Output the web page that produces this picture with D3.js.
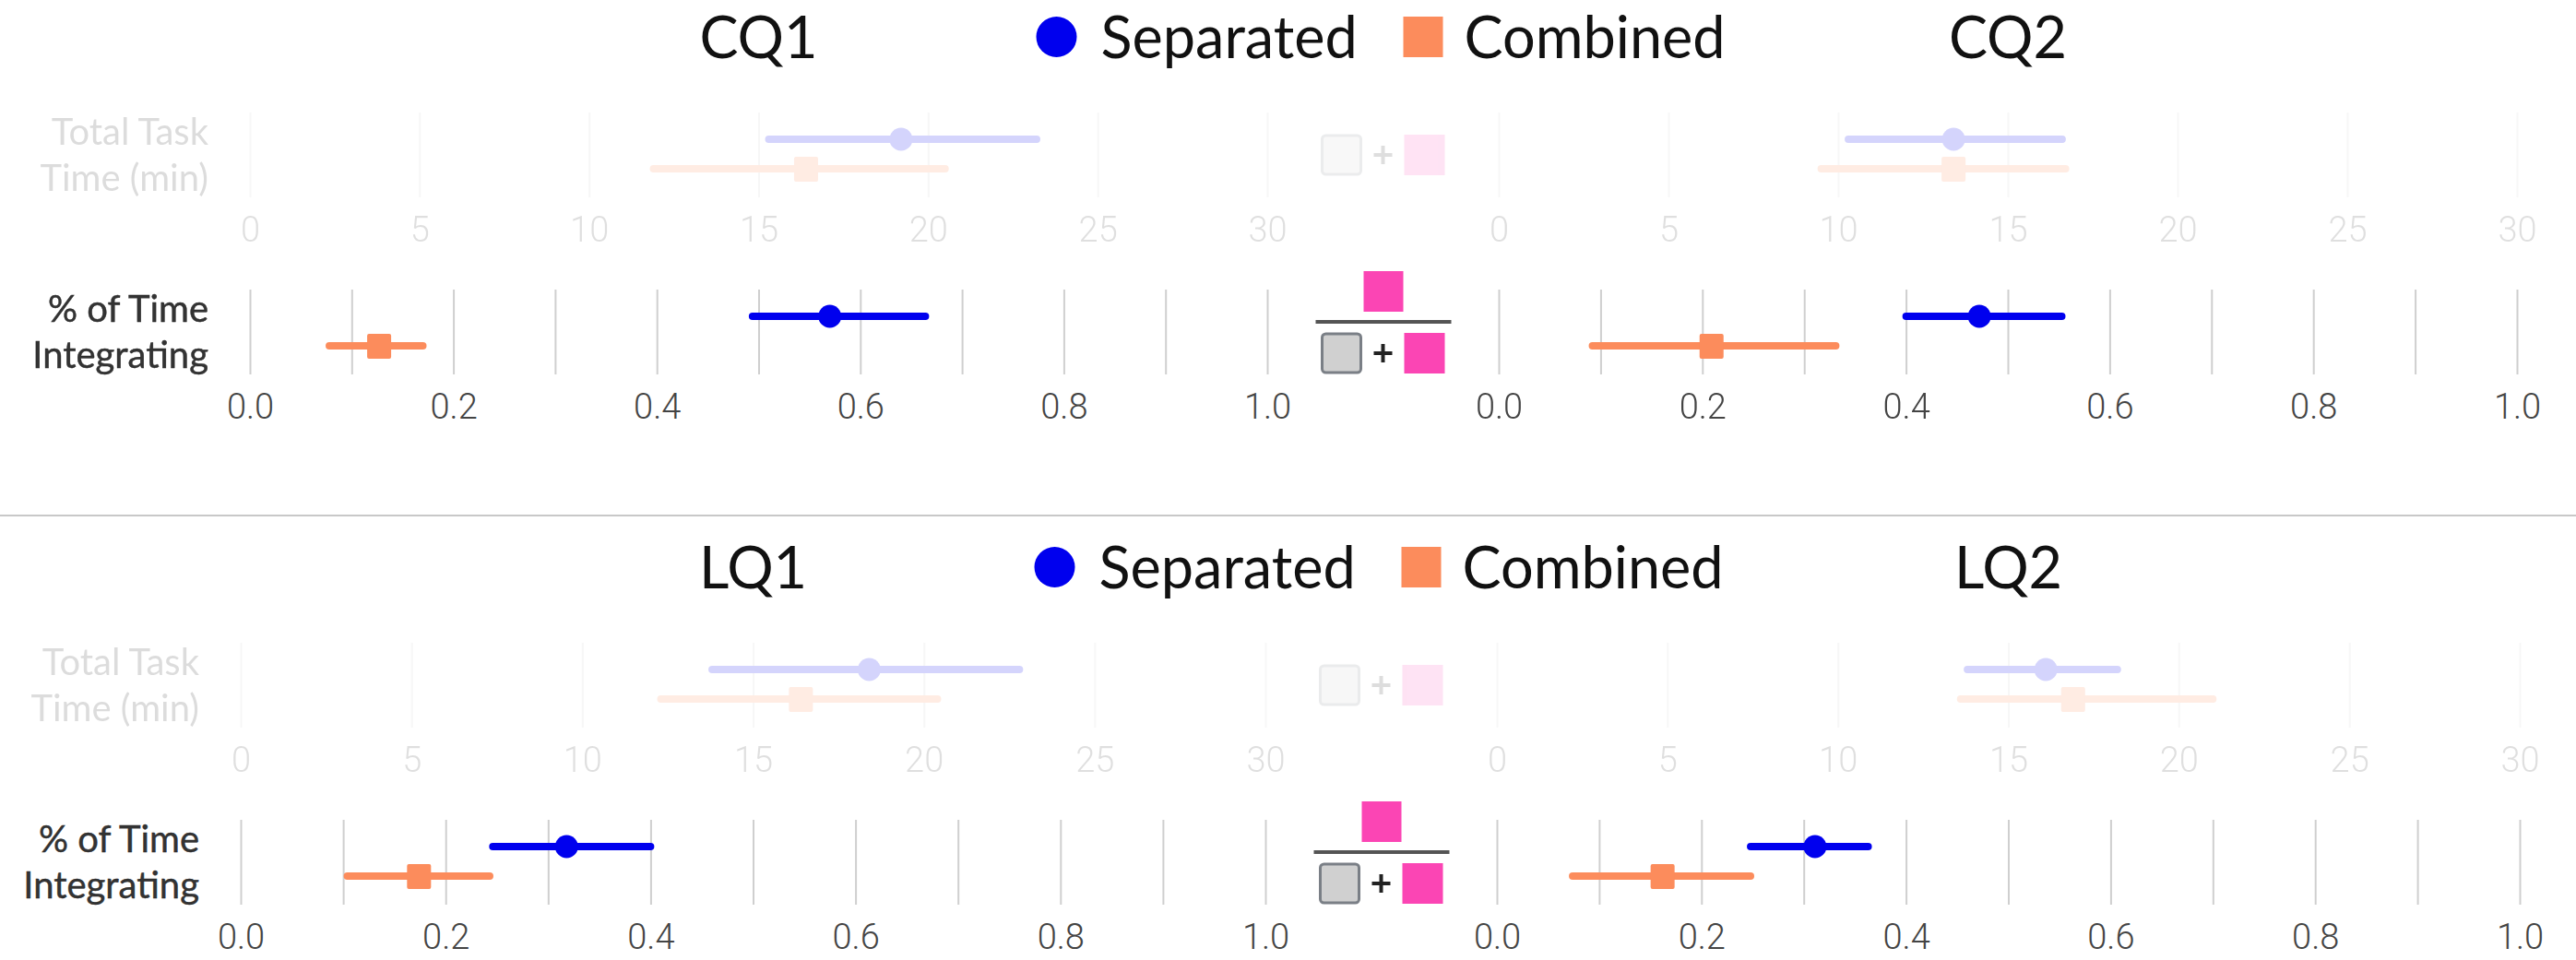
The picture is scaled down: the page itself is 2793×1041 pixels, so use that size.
<!DOCTYPE html>
<html lang="en">
<head>
    <meta charset="UTF-8">
    <title>Separated vs Combined</title>
    <script src="https://d3js.org/d3.v7.min.js"></script>
    <style>
        body { margin: 0; background: #fff; }
        .title, .legend { font-family: Lato, sans-serif; font-size: 63px; fill: #111; }
        .rowlabel { font-family: Lato, sans-serif; font-size: 40px; fill: #333; }
        .tick text { font-family: Roboto, sans-serif; font-size: 38px; font-weight: 300; fill: #444; }
        .tick line { stroke: #cfcfcf; stroke-width: 2; }
    </style>
</head>
<body>
    <script>
        // data: [low, mean, high] for each panel
        const panelNames = ["CQ1", "CQ2", "LQ1", "LQ2"];
        const seriesNames = ["Separated", "Combined"];
        const timeTicks = [0, 5, 10, 15, 20, 25, 30];
        const pctTicks = [0, 0.1, 0.2, 0.3, 0.4, 0.5, 0.6, 0.7, 0.8, 0.9, 1.0];
        const timeSeparated = [[15.3, 19.2, 23.2], [10.3, 13.4, 16.6], [13.8, 18.4, 22.8], [13.8, 16.1, 18.2]];
        const timeCombined  = [[11.9, 16.4, 20.5], [9.5, 13.4, 16.7], [12.3, 16.4, 20.4], [13.6, 16.9, 21.0]];
        const pctSeparated  = [[0.494, 0.570, 0.664], [0.400, 0.472, 0.553], [0.246, 0.318, 0.400], [0.248, 0.311, 0.363]];
        const pctCombined   = [[0.078, 0.127, 0.170], [0.092, 0.209, 0.331], [0.104, 0.174, 0.243], [0.074, 0.162, 0.248]];

        const W = 2793, H = 1041;
        const colors = { Separated: "#0000ee", Combined: "#fc8c5c" };
        const pink = "#fb45b4";
        const halfTop = [0, 575];
        const panelX = [[271, 1374], [1625, 2729], [261, 1372], [1623, 2732]];
        const rowTop = { time: 122, pct: 314 };
        const rowH = 92;
        const fadeOpacity = 0.17;

        const svg = d3.select("body").append("svg")
            .attr("width", W)
            .attr("height", H);

        // separator between the two halves
        svg.append("line")
            .attr("x1", 0).attr("x2", W)
            .attr("y1", 559).attr("y2", 559)
            .attr("stroke", "#c8c8c8").attr("stroke-width", 2);

        const yS = d3.scalePoint().domain(seriesNames).range([29, 61]);

        function drawRow(g, x, top, tickVals, fmt, sepData, combData) {
            const axis = d3.axisBottom(x)
                .tickValues(tickVals)
                .tickSize(-rowH)
                .tickPadding(21)
                .tickFormat(fmt);
            g.append("g")
                .attr("transform", `translate(0,${top + rowH})`)
                .call(axis)
                .call(a => a.select(".domain").remove());

            const rows = [["Separated", sepData], ["Combined", combData]];
            rows.forEach(([s, v]) => {
                const y = top + yS(s);
                g.append("line")
                    .attr("x1", x(v[0])).attr("x2", x(v[2]))
                    .attr("y1", y).attr("y2", y)
                    .attr("stroke", colors[s])
                    .attr("stroke-width", 8)
                    .attr("stroke-linecap", "round");
                if (s === "Separated") {
                    g.append("circle")
                        .attr("cx", x(v[1])).attr("cy", y).attr("r", 12.5)
                        .attr("fill", colors[s]);
                } else {
                    g.append("rect")
                        .attr("x", x(v[1]) - 13).attr("y", y - 13)
                        .attr("width", 26).attr("height", 27)
                        .attr("rx", 2)
                        .attr("fill", colors[s]);
                }
            });
        }

        function rowLabel(g, x, midY, lines, heavy) {
            const t = g.append("text")
                .attr("class", "rowlabel")
                .attr("text-anchor", "end");
            if (heavy) t.attr("fill", "#222").attr("stroke", "#222").attr("stroke-width", 0.4);
            lines.forEach((l, i) => {
                t.append("tspan")
                    .attr("x", x)
                    .attr("y", midY - 11 + (i * 50))
                    .text(l);
            });
        }

        // denominator: grey box + pink box
        function denominator(g, cx, top) {
            g.append("rect")
                .attr("x", cx - 66).attr("y", top)
                .attr("width", 42).attr("height", 42).attr("rx", 4)
                .attr("fill", "#d0d0d0").attr("stroke", "#7a7f86").attr("stroke-width", 3);
            g.append("path")
                .attr("d", `M${cx - 10},${top + 21}H${cx + 10}M${cx},${top + 11}V${top + 31}`)
                .attr("stroke", "#222").attr("stroke-width", 4);
            g.append("rect")
                .attr("x", cx + 23).attr("y", top - 1)
                .attr("width", 44).attr("height", 44)
                .attr("fill", pink);
        }

        panelNames.forEach((name, i) => {
            const half = Math.floor(i / 2);
            const g = svg.append("g").attr("transform", `translate(0,${halfTop[half]})`);
            const [x0, x1] = panelX[i];
            const xTime = d3.scaleLinear().domain([0, 30]).range([x0, x1]);
            const xPct = d3.scaleLinear().domain([0, 1]).range([x0, x1]);

            g.append("text")
                .attr("class", "title")
                .attr("x", (x0 + x1) / 2)
                .attr("y", 63)
                .attr("text-anchor", "middle")
                .text(name);

            const tg = g.append("g").attr("opacity", fadeOpacity);
            drawRow(tg, xTime, rowTop.time, timeTicks, d3.format("d"), timeSeparated[i], timeCombined[i]);
            drawRow(g, xPct, rowTop.pct, pctTicks,
                (d, k) => k % 2 ? "" : d3.format(".1f")(d), pctSeparated[i], pctCombined[i]);

            if (i % 2 === 0) {
                rowLabel(tg, x0 - 45, rowTop.time + rowH / 2, ["Total Task", "Time (min)"], false);
                rowLabel(g, x0 - 45, rowTop.pct + rowH / 2, ["% of Time", "Integrating"], true);
            }
        });

        // legend and ratio icons in the gap between panels
        [0, 1].forEach(half => {
            const g = svg.append("g").attr("transform", `translate(0,${halfTop[half]})`);
            const c = (panelX[half * 2][1] + panelX[half * 2 + 1][0]) / 2;

            const lg = g.append("g").attr("class", "legend");
            lg.append("circle").attr("cx", c - 354).attr("cy", 40).attr("r", 22).attr("fill", colors.Separated);
            lg.append("text").attr("x", c - 306).attr("y", 63).text(seriesNames[0]);
            lg.append("rect").attr("x", c + 22).attr("y", 18).attr("width", 43).attr("height", 44).attr("fill", colors.Combined);
            lg.append("text").attr("x", c + 88).attr("y", 63).text(seriesNames[1]);

            // faded denominator in the time row
            const fg = g.append("g").attr("opacity", 0.15);
            denominator(fg, c, rowTop.time + rowH / 2 - 21);

            // full fraction in the percent row
            const fy = rowTop.pct + rowH - 44;
            g.append("rect")
                .attr("x", c - 21).attr("y", rowTop.pct - 20)
                .attr("width", 43).attr("height", 44)
                .attr("fill", pink);
            g.append("line")
                .attr("x1", c - 73).attr("x2", c + 74)
                .attr("y1", rowTop.pct + 35).attr("y2", rowTop.pct + 35)
                .attr("stroke", "#555").attr("stroke-width", 4);
            denominator(g, c, fy);
        });
    </script>
</body>
</html>
